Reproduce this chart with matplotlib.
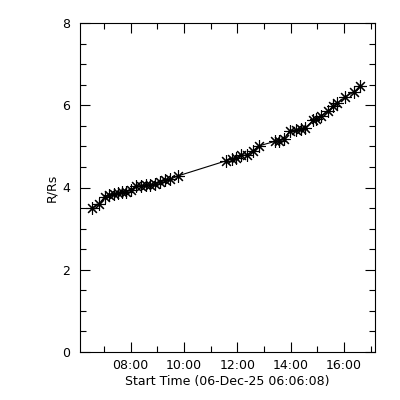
import matplotlib
matplotlib.use("Agg")
import matplotlib.pyplot as plt
from matplotlib.ticker import MultipleLocator

times = ["06:34", "06:48", "07:02", "07:12", "07:22", "07:31", "07:40", "07:49",
         "08:01", "08:12", "08:23", "08:34", "08:44", "08:55", "09:07", "09:17",
         "09:29", "09:46", "11:35", "11:47", "11:56", "12:09", "12:22", "12:35",
         "12:48", "13:24", "13:34", "13:45", "13:58", "14:11", "14:23", "14:32",
         "14:50", "14:58", "15:09", "15:23", "15:35", "15:45", "16:02", "16:23",
         "16:36"]
heights = [3.50, 3.59, 3.78, 3.82, 3.84, 3.86, 3.88, 3.90,
           3.94, 4.04, 4.04, 4.06, 4.06, 4.08, 4.13, 4.18,
           4.20, 4.28, 4.65, 4.69, 4.71, 4.78, 4.79, 4.89,
           5.01, 5.12, 5.13, 5.18, 5.38, 5.40, 5.42, 5.44,
           5.63, 5.66, 5.75, 5.85, 5.97, 6.05, 6.20, 6.33,
           6.47]
xtick_labels = ["08:00", "10:00", "12:00", "14:00", "16:00"]
yticks = [0, 2, 4, 6, 8]
start_label = "06-Dec-25 06:06:08"

def to_hours(s):
    h, m = s.split(":")[:2]
    return int(h) + int(m) / 60.0

x = [to_hours(t) for t in times]
xticks = [to_hours(t) for t in xtick_labels]

fig = plt.figure(figsize=(4, 4), dpi=100)
ax = fig.add_axes([0.2, 0.12, 0.7375, 0.8225])
ax.plot(x, heights, color="black", lw=0.8, marker=(8, 2, 0), ms=9, mew=0.8,
        markerfacecolor="none", markeredgecolor="black")
ax.set_xlim(6 + 6 / 60 + 8 / 3600, 17.16)
ax.set_ylim(0, 8)
ax.set_xticks(xticks)
ax.set_xticklabels(xtick_labels)
ax.xaxis.set_minor_locator(MultipleLocator(1))
ax.set_yticks(yticks)
ax.set_yticklabels([str(v) for v in yticks])
ax.yaxis.set_minor_locator(MultipleLocator(0.5))
ax.tick_params(which="both", direction="in", top=True, right=True, labelsize=9,
               width=0.8)
ax.tick_params(which="major", length=7)
ax.tick_params(axis="x", which="major", pad=5)
ax.tick_params(axis="y", which="major", pad=7)
ax.tick_params(which="minor", length=4)
for sp in ax.spines.values():
    sp.set_linewidth(0.8)
ax.set_xlabel("Start Time (" + start_label + ")", fontsize=9, labelpad=2)
ax.set_ylabel("R/Rs", fontsize=9, labelpad=3)
fig.savefig("out.png", dpi=100)
